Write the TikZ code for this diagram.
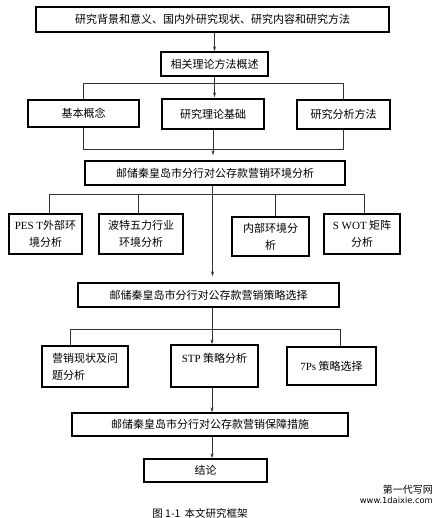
\documentclass[tikz,border=0pt]{standalone}
\usepackage{fontspec}
\setmainfont{Noto Sans CJK SC}
\newfontfamily\lat{Liberation Serif}
\newfontfamily\wmfont{DejaVu Sans}
\usetikzlibrary{arrows.meta}
\begin{document}
\begin{tikzpicture}[x=1pt,y=-1pt,
  box/.style={draw=black,line width=1.3pt,inner sep=1pt,font=\fontsize{11}{17}\selectfont},
  conn/.style={draw=black!80,line width=0.8pt},
  arr/.style={conn,-{Stealth[length=5pt,width=3pt]}}]
\useasboundingbox[fill=white] (0,0) rectangle (444,518);
% row 1
\node[box,minimum width=353pt,minimum height=25pt] (b1) at (212.5,19.5) {研究背景和意义、国内外研究现状、研究内容和研究方法};
\node[box,minimum width=107pt,minimum height=24pt] (b2) at (214.5,64) {相关理论方法概述};
\node[box,minimum width=111pt,minimum height=27pt] (b3a) at (83.5,113.5) {基本概念};
\node[box,minimum width=102pt,minimum height=30pt] (b3b) at (213,114) {研究理论基础};
\node[box,minimum width=93pt,minimum height=29pt] (b3c) at (343.5,114.5) {研究分析方法};
\node[box,minimum width=260pt,minimum height=24pt] (b4) at (215,173) {邮储秦皇岛市分行对公存款营销环境分析};
\node[box,minimum width=73pt,minimum height=40pt,align=center] (b5a) at (45.5,234) {{\lat PES T}外部环\\境分析};
\node[box,minimum width=84pt,minimum height=40pt,align=center] (b5b) at (141,234) {波特五力行业\\环境分析};
\node[box,minimum width=77pt,minimum height=39pt,align=center] (b5c) at (270.5,236.5) {内部环境分\\析};
\node[box,minimum width=76pt,minimum height=40pt,align=center] (b5d) at (362,234) {{\lat S WOT} 矩阵\\分析};
\node[box,minimum width=261pt,minimum height=24pt] (b6) at (208.5,295) {邮储秦皇岛市分行对公存款营销策略选择};
\node[box,minimum width=86pt,minimum height=41pt,align=left] (b7a) at (85,366.5) {营销现状及问\\题分析};
\node[box,minimum width=87pt,minimum height=42pt,align=center] (b7b) at (214.5,366) {{\lat STP} 策略分析\\\mbox{}};
\node[box,minimum width=89pt,minimum height=38pt] (b7c) at (331.5,366) {{\lat 7Ps} 策略选择};
\node[box,minimum width=276pt,minimum height=23pt] (b8) at (210,424.5) {邮储秦皇岛市分行对公存款营销保障措施};
\node[box,minimum width=123pt,minimum height=23pt] (b9) at (205.5,470.5) {结论};
% connectors
\draw[arr] (b2.north |- b1.south) -- (b2.north);
\draw[arr,shorten >=1pt] (b2.south) -- (b2.south |- b3b.north);
\coordinate (ty) at (0,83);
\coordinate (by) at (0,149);
\draw[conn] (b3a.north) -- (b3a.north |- ty) -- (b3c.north |- ty) -- (b3c.north);
\draw[conn] (b3a.south) -- (b3a.south |- by) -- (b3c.south |- by) -- (b3c.south);
\draw[arr,shorten >=5pt] (b3b.south) -- (b3b.south |- b4.north);
\draw[arr,shorten >=6pt] (b4.south -| b6.north) ++(4,0) coordinate (c4) (c4) -- (c4 |- b6.north);
\coordinate (h1) at (49,194);
\coordinate (h2) at (138,194);
\coordinate (h3) at (275,194);
\coordinate (h4) at (364,194);
\draw[conn] (h1) -- (h4);
\draw[conn] (h1) -- (h1 |- b5a.north);
\draw[conn] (h2) -- (h2 |- b5b.north);
\draw[conn] (h3) -- (h3 |- b5c.north);
\draw[conn] (h4) -- (h4 |- b5d.north);
\coordinate (g1) at (70,329);
\coordinate (g2) at (340,329);
\draw[conn] (g1 |- b7a.north) -- (g1) -- (g2) -- (g2 |- b7c.north);
\coordinate (vx) at (212,0);
\draw[arr] (vx |- b6.south) -- (vx |- b7b.north);
\draw[arr] (vx |- b7b.south) -- (vx |- b8.north);
\draw[arr] (vx |- b8.south) -- (vx |- b9.north);
% caption and watermark
\node[font=\fontsize{10.5}{12}\selectfont] (cap) at (200,513) {图 1-1\, 本文研究框架};
\node[anchor=east,font=\fontsize{10}{12}\selectfont,inner sep=0pt] (wm1) at (433,490) {第一代写网};
\node[anchor=east,font=\wmfont\fontsize{8.3}{10}\selectfont,inner sep=0pt] (wm2) at (433,500.5) {www.1daixie.com};
\end{tikzpicture}
\end{document}
